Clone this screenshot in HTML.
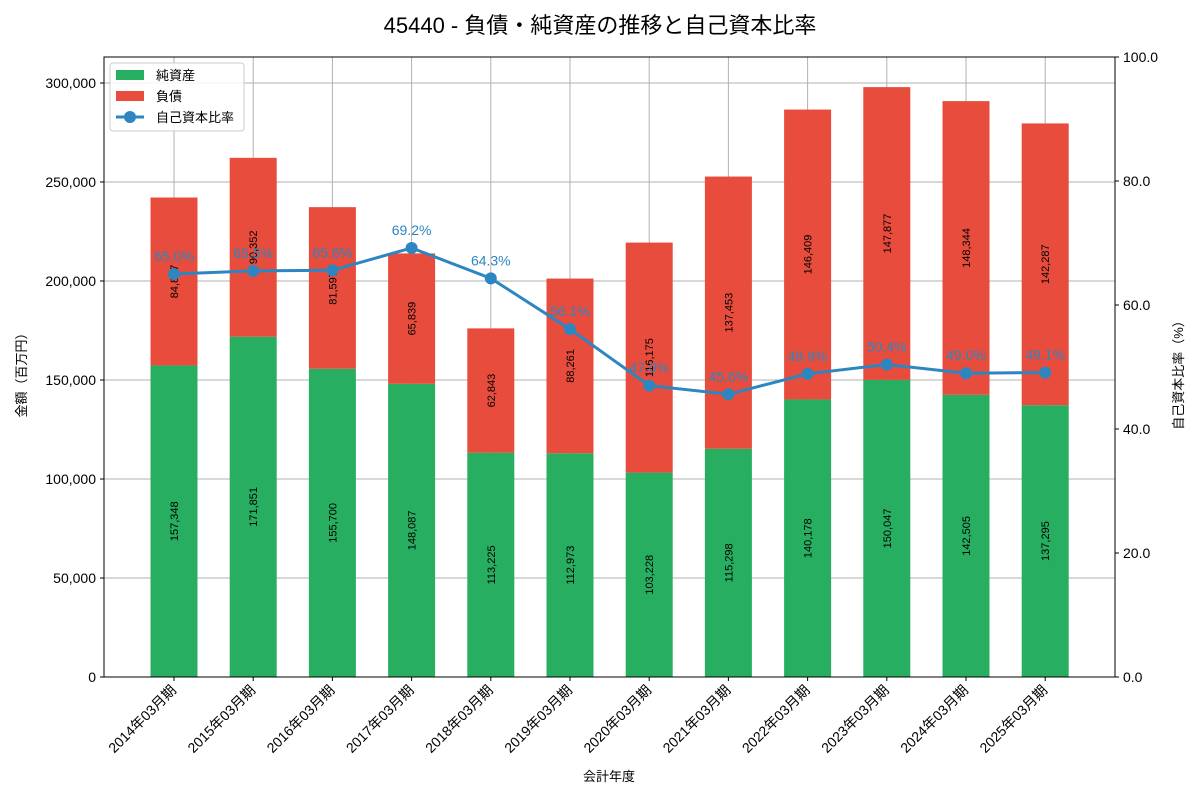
<!DOCTYPE html>
<html><head><meta charset="utf-8"><style>
body{margin:0;background:#fff;}
svg{display:block;font-family:"Liberation Sans","Noto Sans CJK JP",sans-serif;}
</style></head><body>
<svg id="c" width="1200" height="800"></svg>
<script>
const categories=["2014年03月期","2015年03月期","2016年03月期","2017年03月期","2018年03月期","2019年03月期","2020年03月期","2021年03月期","2022年03月期","2023年03月期","2024年03月期","2025年03月期"];
const equity=[157348,171851,155700,148087,113225,112973,103228,115298,140178,150047,142505,137295];
const liabilities=[84817,90352,81597,65839,62843,88261,116175,137453,146409,147877,148344,142287];
const ratio=[65.0,65.5,65.6,69.2,64.3,56.1,47.0,45.6,48.9,50.4,49.0,49.1];
const leftTicks=[0,50000,100000,150000,200000,250000,300000];
const rightTicks=[0,20,40,60,80,100];
const NS="http://www.w3.org/2000/svg";
const svg=document.getElementById('c');
const X0=104,X1=1115,Y0=677,YT=57;
const yL=v=>Y0-v*(594/300000);
const yR=v=>Y0-v*(620/100);
const xC=i=>174+i*79.2;
const BW=47;
function el(t,a,p){const e=document.createElementNS(NS,t);for(const k in a)e.setAttribute(k,a[k]);(p||svg).appendChild(e);return e;}
function fmt(n){return n.toLocaleString('en-US');}
// grid
leftTicks.forEach(v=>{const g=el('line',{x1:X0,x2:X1,y1:yL(v),y2:yL(v),stroke:'#b0b0b0','stroke-width':1});

});
categories.forEach((c,i)=>{const g=el('line',{x1:xC(i),x2:xC(i),y1:YT,y2:Y0,stroke:'#b0b0b0','stroke-width':1});

});
// bars
categories.forEach((c,i)=>{
 const b1=el('rect',{x:xC(i)-BW/2,y:yL(equity[i]),width:BW,height:Y0-yL(equity[i]),fill:'#27ae60'});
 
 
 const top=equity[i]+liabilities[i];
 const b2=el('rect',{x:xC(i)-BW/2,y:yL(top),width:BW,height:yL(equity[i])-yL(top),fill:'#e74c3c'});
 
 
 [[equity[i],yL(equity[i]/2)],[liabilities[i],yL(equity[i]+liabilities[i]/2)]].forEach(([v,y])=>{
  const t=el('text',{x:0,y:0,transform:`translate(${xC(i)+4},${y}) rotate(-90)`,'text-anchor':'middle','font-size':11,fill:'#000'});
  t.textContent=fmt(v);
  
  
 });
});
// line
const pts=ratio.map((r,i)=>xC(i)+','+yR(r)).join(' ');
const pl=el('polyline',{points:pts,fill:'none',stroke:'#2e86c1','stroke-width':3});


ratio.forEach((r,i)=>{
 const c=el('circle',{cx:xC(i),cy:yR(r),r:6,fill:'#2e86c1'});
 
 
 const t=el('text',{x:xC(i),y:yR(r)-13,'text-anchor':'middle','font-size':14,fill:'#2e86c1'});
 t.textContent=r.toFixed(1)+'%';
 
 
});
// frame
const fr=el('rect',{x:X0,y:YT,width:X1-X0,height:Y0-YT,fill:'none',stroke:'#000','stroke-width':1});


// left ticks
leftTicks.forEach(v=>{el('line',{x1:X0-4,x2:X0,y1:yL(v),y2:yL(v),stroke:'#000'});
 const t=el('text',{x:X0-8,y:yL(v)+5,'text-anchor':'end','font-size':14});t.textContent=fmt(v);
 
 });
rightTicks.forEach(v=>{el('line',{x1:X1,x2:X1+4,y1:yR(v),y2:yR(v),stroke:'#000'});
 const t=el('text',{x:X1+8,y:yR(v)+5,'font-size':14});t.textContent=v.toFixed(1);
 
 });
categories.forEach((c,i)=>{el('line',{x1:xC(i),x2:xC(i),y1:Y0,y2:Y0+4,stroke:'#000'});
 const t=el('text',{x:0,y:0,transform:`translate(${xC(i)+3},${Y0+14}) rotate(-45)`,'text-anchor':'end','font-size':14});t.textContent=c;
 
 });
// titles
let t=el('text',{x:600,y:33,'text-anchor':'middle','font-size':22});t.textContent='45440 - 負債・純資産の推移と自己資本比率';

t=el('text',{x:609,y:781,'text-anchor':'middle','font-size':13});t.textContent='会計年度';

t=el('text',{x:0,y:0,transform:'translate(26,372) rotate(-90)','text-anchor':'middle','font-size':13});t.textContent='金額（百万円）';

t=el('text',{x:0,y:0,transform:'translate(1183,372) rotate(-90)','text-anchor':'middle','font-size':13});t.textContent='自己資本比率（%）';

// legend
const lg=el('g',{});
el('rect',{x:110,y:63,width:134,height:68,fill:'#fff','fill-opacity':0.85,stroke:'#ccc',rx:3},lg);
el('rect',{x:116,y:70,width:28,height:10,fill:'#27ae60'},lg);
el('rect',{x:116,y:91,width:28,height:10,fill:'#e74c3c'},lg);
el('line',{x1:116,x2:144,y1:117,y2:117,stroke:'#2e86c1','stroke-width':3},lg);
el('circle',{cx:130,cy:117,r:6,fill:'#2e86c1'},lg);
[['純資産',80,'legend-entry-equity'],['負債',101,'legend-entry-liabilities'],['自己資本比率',122,'legend-entry-ratio']].forEach(([s,y,n])=>{
 const tt=el('text',{x:156,y:y,'font-size':13},lg);tt.textContent=s;
 
 });
</script>
</body></html>
